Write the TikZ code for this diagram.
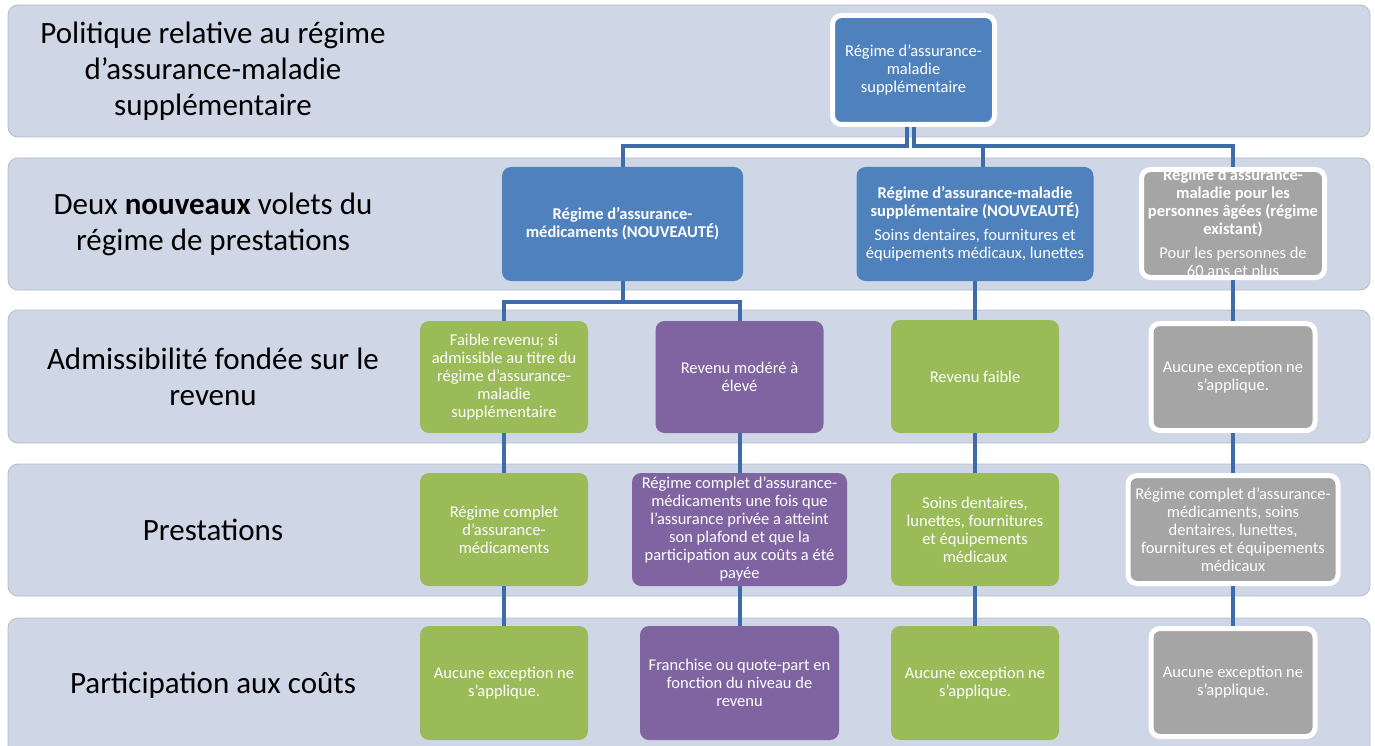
\documentclass[tikz,border=0pt]{standalone}
\usepackage{fontspec}
\setmainfont{Carlito}
\definecolor{bandc}{HTML}{CFD7E6}
\definecolor{bandline}{HTML}{B4BCCB}
\definecolor{bluebox}{HTML}{4F81BD}
\definecolor{greenbox}{HTML}{9BBB59}
\definecolor{purplebox}{HTML}{8064A2}
\definecolor{graybox}{HTML}{A5A5A5}
\definecolor{connc}{HTML}{3E6CA8}
\newcommand\boxfont{\fontsize{16.5}{18}\selectfont}
\newcommand\lblfont{\fontsize{31}{36}\selectfont}
\tikzset{
  band/.style={fill=bandc, draw=bandline, line width=0.8pt, rounded corners=10pt},
  lbl/.style={align=center, text=black, font=\lblfont, inner sep=0pt},
  bx/.style={rounded corners=9pt, inner sep=0pt, align=center, text=white, font=\boxfont},
  wbx/.style={bx, draw=white, line width=5pt},
  bxtext/.style={inner sep=0pt, align=center, text=white, font=\boxfont},
  conn/.style={draw=connc, line width=4pt},
}
\begin{document}
\begin{tikzpicture}[x=1pt,y=-1pt]
\useasboundingbox (0,0) rectangle (1375,746);
\fill[white] (0,0) rectangle (1375,746);

% bands
\path[band] (8,5) rectangle (1370,137);
\path[band] (8,158) rectangle (1370,290);
\path[band] (8,310) rectangle (1370,443);
\path[band] (8,464) rectangle (1370,596);
\path[band] (8,618) rectangle (1370,756);

% row labels
\node[lbl] (lab1) at (213,71) {Politique relative au régime\\d’assurance-maladie\\supplémentaire};
\node[lbl] (lab2) at (213,224) {Deux \textbf{nouveaux} volets du\\régime de prestations};
\node[lbl] (lab3) at (213,377) {Admissibilité fondée sur le\\revenu};
\node[lbl] (lab4) at (213,530) {Prestations};
\node[lbl] (lab5) at (213,685) {Participation aux coûts};

% row 1
\node[wbx, fill=bluebox, minimum width=162pt, minimum height=109pt] (top) at (913.5,70)
  {Régime d’assurance-\\maladie\\supplémentaire};

% row 2
\node[bx, fill=bluebox, minimum width=241pt, minimum height=114pt] (med) at (622.5,224)
  {\textbf{Régime d’assurance-}\\\textbf{médicaments (NOUVEAUTÉ)}};
\node[bx, fill=bluebox, minimum width=237pt, minimum height=114pt] (sup) at (975,224)
  {\textbf{Régime d’assurance-maladie}\\\textbf{supplémentaire (NOUVEAUTÉ)}\\[6pt]Soins dentaires, fournitures et\\équipements médicaux, lunettes};
\node[wbx, fill=graybox, minimum width=183pt, minimum height=108pt] (old) at (1233,223.5) {};
\begin{scope}
  \clip[rounded corners=9pt] (1141.5,169.5) rectangle (1324.5,277.5);
  \node[bxtext] (oldtxt) at (1233,224) {\textbf{Régime d’assurance-}\\\textbf{maladie pour les}\\\textbf{personnes âgées (régime}\\\textbf{existant)}\\[6pt]Pour les personnes de\\60 ans et plus};
\end{scope}

% row 3
\node[bx, fill=greenbox, minimum width=168pt, minimum height=112pt] (g1r3) at (504,377)
  {Faible revenu; si\\admissible au titre du\\régime d’assurance-\\maladie\\supplémentaire};
\node[bx, fill=purplebox, minimum width=168pt, minimum height=112pt] (p1r3) at (739.5,377)
  {Revenu modéré à\\élevé};
\node[bx, fill=greenbox, minimum width=168pt, minimum height=113pt] (g3r3) at (975,376.5)
  {Revenu faible};
\node[wbx, fill=graybox, minimum width=164pt, minimum height=107pt] (x3) at (1233,377)
  {Aucune exception ne\\s’applique.};

% row 4
\node[bx, fill=greenbox, minimum width=168pt, minimum height=113pt] (g1r4) at (504,529.5)
  {Régime complet\\d’assurance-\\médicaments};
\node[bx, fill=purplebox, minimum width=215pt, minimum height=113pt] (p1r4) at (739.5,529.5)
  {Régime complet d’assurance-\\médicaments une fois que\\l’assurance privée a atteint\\son plafond et que la\\participation aux coûts a été\\payée};
\node[bx, fill=greenbox, minimum width=168pt, minimum height=113pt] (g3r4) at (975,529.5)
  {Soins dentaires,\\lunettes, fournitures\\et équipements\\médicaux};
\node[wbx, fill=graybox, minimum width=210pt, minimum height=108pt] (x4) at (1233,529.5)
  {Régime complet d’assurance-\\médicaments, soins\\dentaires, lunettes,\\fournitures et équipements\\médicaux};

% row 5
\node[bx, fill=greenbox, minimum width=168pt, minimum height=114pt] (g1r5) at (504,683)
  {Aucune exception ne\\s’applique.};
\node[bx, fill=purplebox, minimum width=199pt, minimum height=114pt] (p1r5) at (739.5,683)
  {Franchise ou quote-part en\\fonction du niveau de\\revenu};
\node[bx, fill=greenbox, minimum width=168pt, minimum height=114pt] (g3r5) at (975,683)
  {Aucune exception ne\\s’applique.};
\node[wbx, fill=graybox, minimum width=164pt, minimum height=108pt] (x5) at (1233,682.5)
  {Aucune exception ne\\s’applique.};

% connectors
\coordinate (bus) at (0,146);
\draw[conn] ([xshift=-7pt]top.south) -- ([xshift=-7pt]top.south |- bus) -| (med.north);
\draw[conn] ([xshift=0.5pt]top.south) -- ([xshift=0.5pt]top.south |- bus) -| (old.north);
\draw[conn] ([xshift=8pt]sup.north) -- ([xshift=8pt]sup.north |- bus);
\coordinate (bus2) at (0,302);
\draw[conn] (med.south) -- (med.south |- bus2) -| (g1r3.north);
\draw[conn] (med.south |- bus2) -| (p1r3.north);
\draw[conn] (sup) -- (g3r3);
\draw[conn] (old) -- (x3);
\draw[conn] (g1r3) -- (g1r4);
\draw[conn] (g1r4) -- (g1r5);
\draw[conn] (p1r3) -- (p1r4);
\draw[conn] (p1r4) -- (p1r5);
\draw[conn] (g3r3) -- (g3r4);
\draw[conn] (g3r4) -- (g3r5);
\draw[conn] (x3) -- (x4);
\draw[conn] (x4) -- (x5);
\end{tikzpicture}
\end{document}
